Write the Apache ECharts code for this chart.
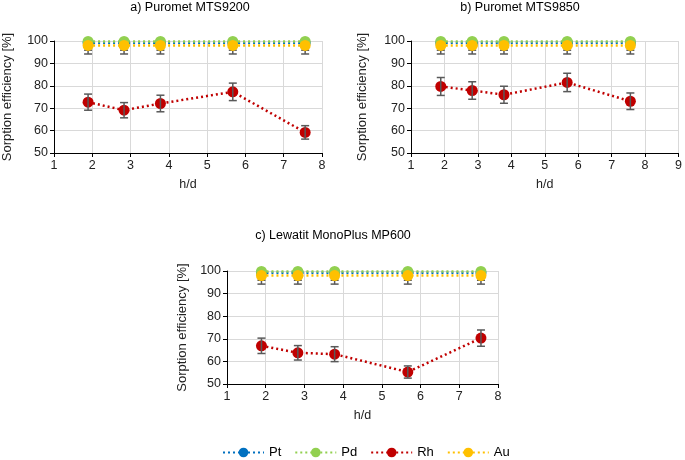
<!DOCTYPE html>
<html><head><meta charset="utf-8">
<script src="https://cdn.jsdelivr.net/npm/echarts@6/dist/echarts.min.js"></script>
<style>html,body{margin:0;padding:0;background:#fff}#c{width:685px;height:460px}</style>
</head><body><div id="c"></div>
<script>
const hd = [1.89, 2.83, 3.78, 5.67, 7.56];
const titles = ['a) Puromet MTS9200', 'b) Puromet MTS9850', 'c) Lewatit MonoPlus MP600'];
const ptVals = [[99.2,99.2,99.2,99.2,99.2],[99.2,99.2,99.2,99.2,99.2],[99.2,99.2,99.2,99.2,99.2]];
const pdVals = [[99.8,99.8,99.8,99.8,99.8],[99.8,99.8,99.8,99.8,99.8],[99.8,99.8,99.8,99.8,99.8]];
const rhVals = [[72.7,69.1,72.1,77.3,59.2],[79.7,77.9,76.0,81.5,73.1],[66.9,63.8,63.2,55.3,70.3]];
const auVals = [[98.0,98.0,98.0,98.0,98.0],[98.0,98.0,98.0,98.0,98.0],[98.0,98.0,98.0,98.0,98.0]];
const ptErr = [[3.3,3.3,3.3,3.3,3.3],[3.3,3.3,3.3,3.3,3.3],[3.3,3.3,3.3,3.3,3.3]];
const auErr = [[3.8,3.8,3.8,3.8,3.8],[3.8,3.8,3.8,3.8,3.8],[3.8,3.8,3.8,3.8,3.8]];
const rhErr = [[3.6,3.4,3.7,3.9,3.0],[4.0,3.9,3.8,4.1,3.7],[3.4,3.2,3.3,2.7,3.6]];
const xMax = [8, 9, 8];
const yTicks = [50, 60, 70, 80, 90, 100];
const xTicksInterval = 1;

const colors = {Pt:'#0070C0', Pd:'#92D050', Rh:'#C00000', Au:'#FFC000'};
const grids = [
  {left:50, top:41, width:272, height:112},
  {left:411, top:41, width:271, height:112},
  {left:227, top:271, width:271, height:113}
];
const nameGaps = [40, 42, 38];
const titlePos = [{x:190,y:1},{x:520,y:1},{x:333,y:229}];

const option = {
  animation:false,
  textStyle:{fontFamily:'Liberation Sans, Arial, sans-serif'},
  title: titles.map((t,i)=>({text:t, left:titlePos[i].x, top:titlePos[i].y, textAlign:'center', padding:0,
    textStyle:{fontSize:12.5, fontWeight:'normal', color:'#000'}})),
  grid: grids,
  legend: {top:441, left:217, itemWidth:41, itemHeight:12, itemGap:13,
    textStyle:{fontSize:13, color:'#000'}, data:['Pt','Pd','Rh','Au']},
  xAxis: grids.map((g,i)=>({gridIndex:i, type:'value', min:1, max:xMax[i], interval:xTicksInterval,
    name:'h/d', nameLocation:'middle', nameGap:25, nameTextStyle:{fontSize:12.5, color:'#222'},
    axisLine:{lineStyle:{color:'#000'}}, axisTick:{show:true, length:4, lineStyle:{color:'#000'}},
    axisLabel:{fontSize:12.5, color:'#222', margin:6},
    splitLine:{show:true, lineStyle:{color:'#d9d9d9'}}})),
  yAxis: grids.map((g,i)=>({gridIndex:i, type:'value', min:yTicks[0], max:yTicks[yTicks.length-1], interval:10,
    name:'Sorption efficiency [%]', nameLocation:'middle', nameGap:nameGaps[i], nameTextStyle:{fontSize:13, color:'#222'},
    axisLine:{show:true, lineStyle:{color:'#000'}}, axisTick:{show:true, length:4, lineStyle:{color:'#000'}},
    axisLabel:{fontSize:12.5, color:'#222', margin:6},
    splitLine:{show:true, lineStyle:{color:'#d9d9d9'}}})),
  series: []
};

function lineSeries(name, vals, i, z){
  return {name, type:'line', xAxisIndex:i, yAxisIndex:i,
    data: hd.map((x,k)=>[x, vals[i][k]]),
    symbol:'circle', symbolSize:11, showSymbol:true,
    itemStyle:{color:colors[name]},
    lineStyle:{color:colors[name], width:2.5, type:[2,3]}, z:z};
}
function errSeries(vals, errs, i, z){
  return {type:'custom', xAxisIndex:i, yAxisIndex:i, silent:true, z:z,
    data: hd.map((x,k)=>[x, vals[i][k]-errs[i][k], vals[i][k]+errs[i][k]]),
    clip:true,
    renderItem:(params, api)=>{
      const lo = api.coord([api.value(0), api.value(1)]);
      const hi = api.coord([api.value(0), api.value(2)]);
      const w = 4;
      const style = {stroke:'#595959', lineWidth:1.5};
      return {type:'group', children:[
        {type:'line', shape:{x1:lo[0], y1:lo[1], x2:hi[0], y2:hi[1]}, style},
        {type:'line', shape:{x1:lo[0]-w, y1:lo[1], x2:lo[0]+w, y2:lo[1]}, style},
        {type:'line', shape:{x1:hi[0]-w, y1:hi[1], x2:hi[0]+w, y2:hi[1]}, style}
      ]};
    }};
}
for (let i=0;i<3;i++){
  option.series.push(errSeries(ptVals, ptErr, i, 2));
  option.series.push(errSeries(auVals, auErr, i, 2));
  option.series.push(lineSeries('Pt', ptVals, i, 3));
  option.series.push(lineSeries('Pd', pdVals, i, 3));
  option.series.push(lineSeries('Rh', rhVals, i, 3));
  option.series.push(lineSeries('Au', auVals, i, 3));
  option.series.push(errSeries(rhVals, rhErr, i, 4));
}
const chart = echarts.init(document.getElementById('c'));
chart.setOption(option);
</script></body></html>
